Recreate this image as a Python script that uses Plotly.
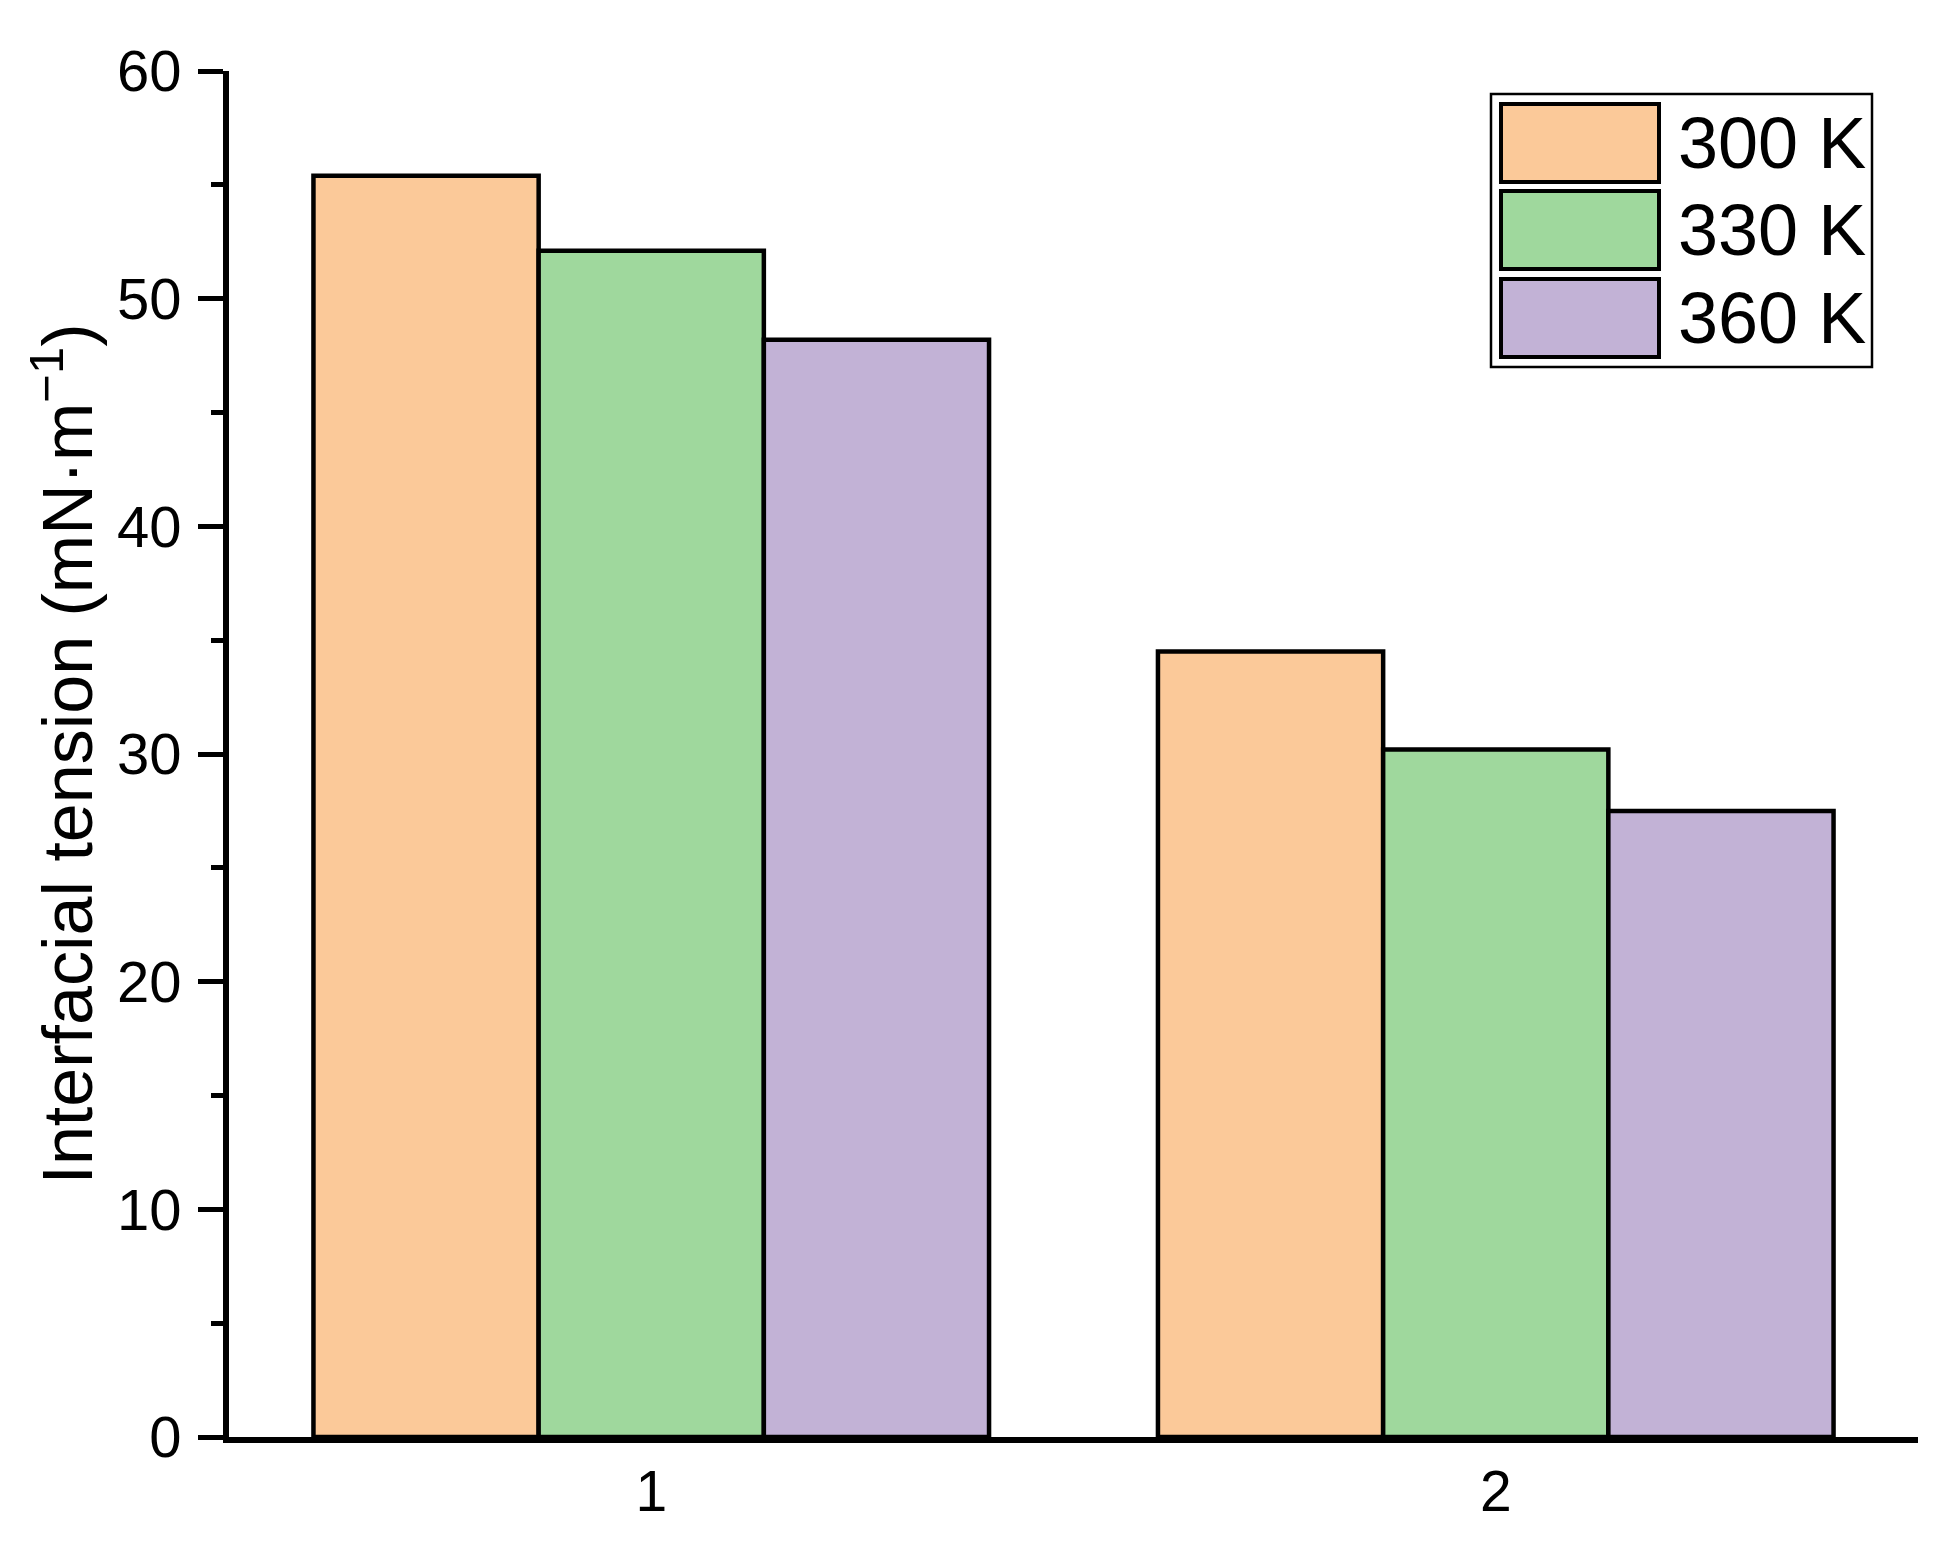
import plotly.graph_objects as go

# ---- data ----
categories = [1, 2]
series_names = ["300 K", "330 K", "360 K"]
values_300K = [55.4, 34.5]
values_330K = [52.1, 30.2]
values_360K = [48.2, 27.5]
series_values = [values_300K, values_330K, values_360K]
colors = ["#FBC999", "#9FD89D", "#C2B2D6"]
y_ticks = [0, 10, 20, 30, 40, 50, 60]
x_tick_labels = ["1", "2"]

# page body has an 8px margin; size figure so it fits in the window
OFF = 8
W, H = 1948 - 2 * OFF, 1550 - 2 * OFF
ML, MR, MT, MB = 229 - OFF, W - (1918 - OFF), 71 - OFF, H - (1437 - OFF)
FONT = "Arial, Liberation Sans, sans-serif"

fig = go.Figure()
for name, vals, col in zip(series_names, series_values, colors):
    fig.add_trace(go.Bar(
        x=categories, y=vals, name=name,
        marker=dict(color=col, line=dict(color="black", width=4.5)),
        showlegend=False,
    ))

# manual legend (large swatches like the original); positions given in page px
pw, ph = W - ML - MR, H - MT - MB
def px_x(px):
    return (px - OFF - ML) / pw
def px_y(py):
    return (H - MB - (py - OFF)) / ph

shapes = [dict(type="rect", xref="paper", yref="paper",
               x0=px_x(1491), x1=px_x(1872), y0=px_y(367), y1=px_y(94),
               line=dict(color="black", width=2.5), fillcolor="white", layer="above")]
annotations = []
sw_tops = [104, 191, 279]
for i, (name, col) in enumerate(zip(series_names, colors)):
    t = sw_tops[i]
    shapes.append(dict(type="rect", xref="paper", yref="paper",
                       x0=px_x(1501), x1=px_x(1659), y0=px_y(t + 78), y1=px_y(t),
                       line=dict(color="black", width=4), fillcolor=col, layer="above"))
    annotations.append(dict(xref="paper", yref="paper", x=px_x(1676), y=px_y(t + 39),
                            text=name, showarrow=False, xanchor="left", yanchor="middle",
                            font=dict(family=FONT, size=72, color="black")))

fig.update_layout(
    width=W, height=H,
    margin=dict(l=ML, r=MR, t=MT, b=MB),
    paper_bgcolor="white", plot_bgcolor="white",
    barmode="group", bargap=0.2, bargroupgap=0,
    font=dict(family=FONT, color="black"),
    shapes=shapes, annotations=annotations,
    xaxis=dict(
        range=[0.5, 2.5], tickvals=categories, ticktext=x_tick_labels,
        showline=True, linecolor="black", linewidth=6,
        ticks="", showgrid=False, zeroline=False,
        ticklabelstandoff=0,
        tickfont=dict(family=FONT, size=57, color="black"),
    ),
    yaxis=dict(
        range=[0, 60], tickvals=y_ticks,
        showline=True, linecolor="black", linewidth=6,
        ticks="outside", ticklen=25, tickwidth=5, tickcolor="black",
        minor=dict(dtick=5, ticks="outside", ticklen=12, tickwidth=5, tickcolor="black"),
        showgrid=False, zeroline=False,
        ticklabelstandoff=5,
        tickfont=dict(family=FONT, size=58, color="black"),
        title=dict(text="Interfacial tension (mN·m<sup>−1</sup>)",
                   font=dict(family=FONT, size=70, color="black"), standoff=3),
    ),
)

fig.write_html("out.html")
